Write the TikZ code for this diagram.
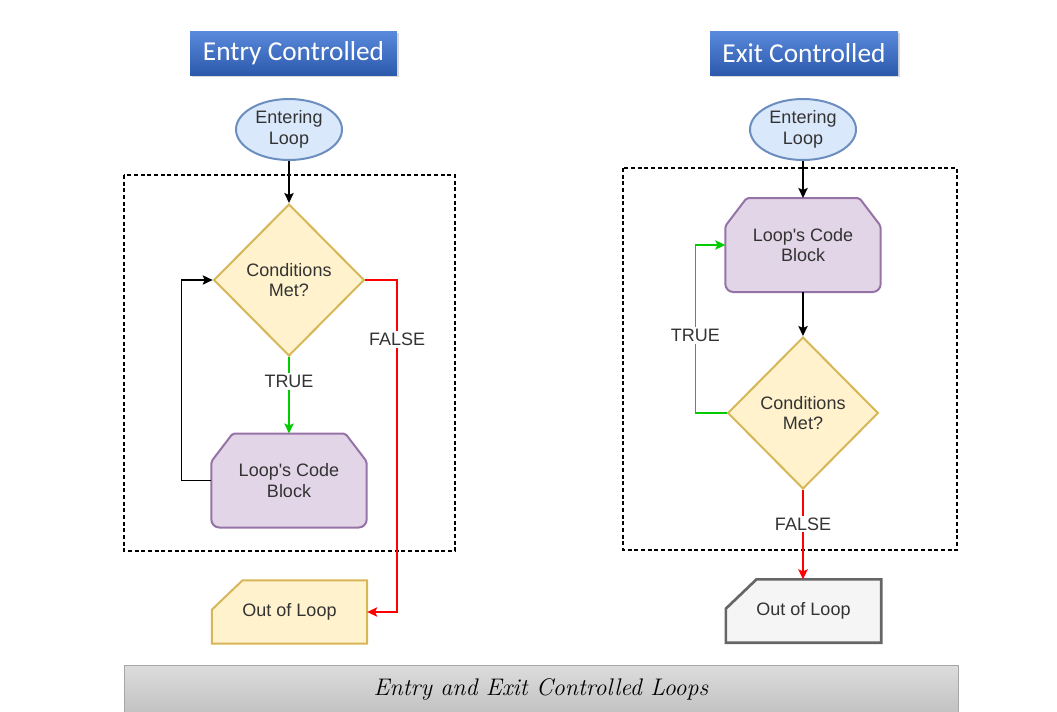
\documentclass[tikz,border=0pt]{standalone}
\usepackage{fontspec}
\newfontfamily\flowfont{Liberation Sans}
\newfontfamily\headfont{Carlito}
\usepackage{tikz}
\usetikzlibrary{arrows.meta,shapes.geometric,shadows,backgrounds}

\definecolor{termfill}{HTML}{DAE8FC}
\definecolor{termline}{HTML}{6C8EBF}
\definecolor{condfill}{HTML}{FFF2CC}
\definecolor{condline}{HTML}{D6B656}
\definecolor{codefill}{HTML}{E1D5E7}
\definecolor{codeline}{HTML}{9673A6}
\definecolor{exitfill}{HTML}{F5F5F5}
\definecolor{exitline}{HTML}{666666}
\definecolor{txtgray}{HTML}{333333}
\definecolor{truegreen}{HTML}{00CC00}
\definecolor{falsered}{HTML}{FF0000}
\definecolor{headtop}{HTML}{5A8ADC}
\definecolor{headbot}{HTML}{2C59AC}
\definecolor{bartop}{HTML}{DCDCDC}
\definecolor{barbot}{HTML}{C2C2C2}

\tikzset{
  flow/.style={font=\flowfont\fontsize{13.5}{15.5}\selectfont, text=txtgray,
    align=center, line width=1.5pt, inner sep=0pt},
  terminal/.style={flow, ellipse, draw=termline, fill=termfill,
    minimum width=79.5pt, minimum height=45.75pt},
  condition/.style={flow, diamond, aspect=1, draw=condline, fill=condfill,
    minimum width=113pt, minimum height=114pt},
  codebox/.style={flow, minimum width=115pt, minimum height=69pt},
  exitbox/.style={flow, minimum width=115pt, minimum height=46pt},
  heading/.style={top color=headtop, bottom color=headbot, text=white,
    font=\headfont\fontsize{20.5}{24}\selectfont, minimum height=33pt,
    drop shadow={shadow xshift=1.5pt, shadow yshift=-1.5pt, opacity=0.3}},
  captionbar/.style={draw=black!35, top color=bartop, bottom color=barbot,
    font=\itshape\fontsize{18}{22}\selectfont, minimum width=625.5pt, minimum height=36pt},
  conn/.style={line width=1.2pt, -{Stealth[length=7.5pt,width=7pt,inset=1.5pt]}},
  lbl/.style={font=\flowfont\fontsize{13.5}{15.5}\selectfont, text=txtgray,
    fill=white, inner sep=1.5pt},
  frame/.style={dash pattern=on 3pt off 2pt, line width=0.8pt}
}

% outline of a code block: chamfered top, rounded bottom
\newcommand\codeshape[1]{%
  \draw[line width=1.5pt, draw=codeline, fill=codefill, rounded corners=1.5pt]
    ([xshift=16pt]#1.north west) -- ([xshift=-16pt]#1.north east)
    -- ([yshift=-21pt]#1.north east) [rounded corners=6pt] -- (#1.south east)
    -- (#1.south west) [rounded corners=1.5pt] -- ([yshift=-21pt]#1.north west) -- cycle;}
% outline of an exit block: one cut corner
\newcommand\exitshape[2]{%
  \draw[#2] ([xshift=23pt]#1.north west) -- (#1.north east) -- (#1.south east)
    -- (#1.south west) -- ([yshift=-22pt]#1.north west) -- cycle;}

\begin{document}
\begin{tikzpicture}[x=0.75pt, y=-0.75pt]
\useasboundingbox (0,0) rectangle (1057,711);

% headings
\node[heading, minimum width=155pt] (head1) at (293.5,53) {Entry Controlled};
\node[heading, minimum width=141pt] (head2) at (804,53) {Exit Controlled};

% entry controlled loop
\node[terminal] (enter1) at (289,129.5) {Entering\\Loop};
\node[condition] (cond1) at (289,280) {Conditions\\Met?};
\node[codebox] (code1) at (289,480.5) {Loop's Code\\Block};
\node[exitbox] (out1) at (289.5,612) {Out of Loop};

\draw[conn] (enter1.south) -- (cond1.north);
\draw[conn, truegreen] (cond1.south) -- node[lbl, pos=0.32] {TRUE} (code1.north);
\draw[conn] (code1.west) -- ++(-30,0) |- (cond1.west);
\draw[conn, falsered] (cond1.east) -| node[lbl, pos=0.59] {FALSE}
  ([xshift=22.5pt]out1.east) -- (out1.east);

% exit controlled loop
\node[terminal] (enter2) at (803,129.5) {Entering\\Loop};
\node[codebox] (code2) at (803,245) {Loop's Code\\Block};
\node[condition] (cond2) at (803,413) {Conditions\\Met?};
\node[exitbox] (out2) at (803.5,611) {Out of Loop};

\draw[conn] (enter2.south) -- (code2.north);
\draw[conn] (code2.south) -- (cond2.north);
\draw[conn, truegreen] (cond2.west) -| node[lbl, pos=0.73] {TRUE}
  ([xshift=-22.5pt]code2.west) -- (code2.west);
\draw[conn, falsered] (cond2.south) -- node[lbl, pos=0.38] {FALSE} (cond2.south |- out2.north);

% caption
\node[captionbar] (caption) at (541,689) {Entry and Exit Controlled Loops};

\begin{scope}[on background layer]
  \draw[frame] (124,175) rectangle (455,551);
  \draw[frame] (623,168) rectangle (957,550);
  \codeshape{code1}
  \codeshape{code2}
  \exitshape{out1}{line width=1.5pt, draw=condline, fill=condfill}
  \exitshape{out2}{line width=2pt, draw=exitline, fill=exitfill}
\end{scope}
\end{tikzpicture}
\end{document}
